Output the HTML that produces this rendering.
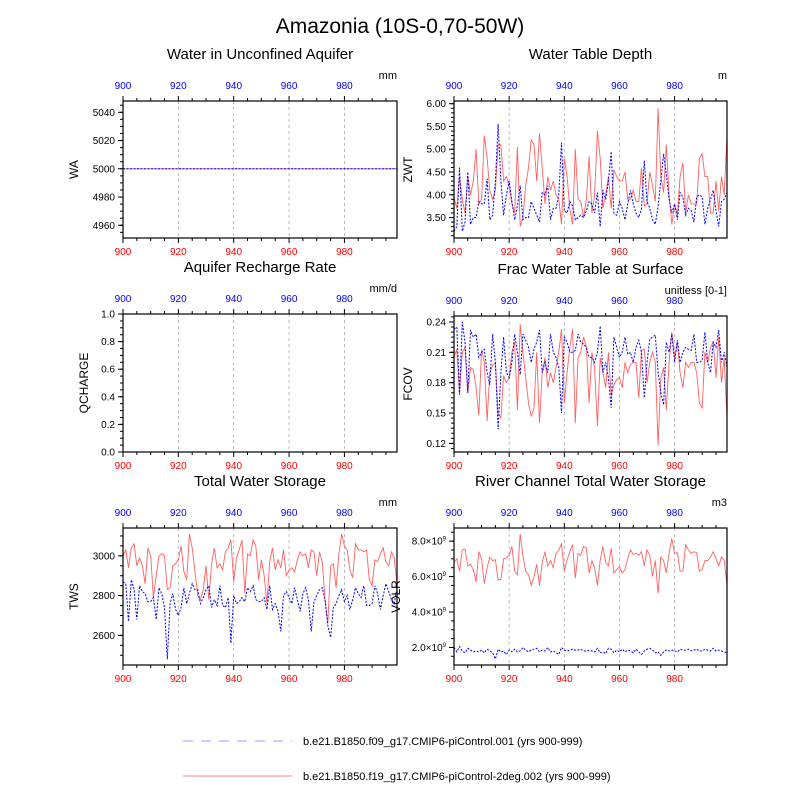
<!DOCTYPE html>
<html><head><meta charset="utf-8"><style>
body{margin:0;background:#fff}
svg{display:block;font-family:"Liberation Sans",sans-serif}
</style></head><body>
<svg id="chart" width="800" height="800" viewBox="0 0 800 800">
<text x="400" y="33" font-size="21" text-anchor="middle">Amazonia (10S-0,70-50W)</text>
<g id="panels"></g>
<g>
<line x1="183" y1="741" x2="292" y2="741" stroke="#9999ff" stroke-width="1" stroke-dasharray="10,8"/>
<text x="303" y="745" font-size="11">b.e21.B1850.f09_g17.CMIP6-piControl.001 (yrs 900-999)</text>
<line x1="183" y1="776" x2="292" y2="776" stroke="#ff8080" stroke-width="1"/>
<text x="303" y="780" font-size="11">b.e21.B1850.f19_g17.CMIP6-piControl-2deg.002 (yrs 900-999)</text>
</g>
</svg>
<script>
const years = Array.from({length:100},(_,i)=>900+i);
const xTicks = [900,920,940,960,980];
const waRed = Array(100).fill(5000);
const waBlue = Array(100).fill(5000);
const qRed = Array(100).fill(0);
const qBlue = Array(100).fill(0);
const zwtRed = [3.95,3.7,4.4,3.9,3.6,4.4,4.0,4.3,5.0,3.8,3.9,5.3,4.8,4.1,3.9,4.1,5.1,5.1,4.3,4.4,4.2,3.8,3.6,5.05,3.3,3.5,4.2,4.6,5.2,5.1,4.3,5.35,4.6,3.8,4.4,4.1,4.3,4.0,3.9,3.35,4.8,4.4,3.7,3.35,5.0,3.9,3.85,3.5,3.9,4.85,3.6,4.0,5.4,4.8,3.7,4.0,4.4,3.7,4.55,4.4,4.3,4.3,4.5,3.9,3.9,4.1,3.85,3.85,4.6,3.75,3.8,4.5,4.2,3.85,5.9,4.4,4.05,5.1,4.0,3.35,3.8,3.55,4.4,4.7,3.6,4.0,3.8,3.8,3.8,4.8,4.9,4.4,4.4,3.6,3.6,4.3,3.65,4.4,4.0,5.3];
const zwtBlue = [3.2,3.3,4.6,3.2,3.4,4.5,3.35,3.5,3.5,3.85,3.8,3.8,4.35,3.45,3.55,4.3,5.55,4.3,3.55,4.0,4.3,3.85,3.45,3.75,4.2,3.45,3.5,3.5,3.85,3.7,3.55,3.4,4.05,4.0,4.2,3.45,3.7,3.7,4.0,5.15,3.65,3.6,3.85,3.75,3.45,3.5,3.55,3.5,3.65,3.85,3.8,3.6,4.05,3.3,4.1,3.9,4.3,4.95,3.6,3.55,3.85,3.7,3.45,3.8,4.1,3.8,3.6,3.5,3.7,4.75,3.85,3.7,3.45,3.35,3.75,4.3,4.9,4.45,3.9,3.6,3.8,3.45,4.05,3.95,3.55,3.7,3.65,3.4,3.95,4.0,3.95,3.35,3.7,3.9,4.1,3.65,3.3,3.85,3.9,4.05];
const fcovRed = [0.205,0.213,0.17,0.21,0.215,0.17,0.195,0.193,0.175,0.148,0.213,0.2,0.142,0.19,0.197,0.2,0.15,0.145,0.187,0.18,0.185,0.21,0.22,0.153,0.238,0.21,0.185,0.16,0.147,0.155,0.21,0.14,0.19,0.205,0.175,0.19,0.18,0.195,0.21,0.233,0.16,0.19,0.215,0.233,0.14,0.205,0.21,0.225,0.215,0.16,0.21,0.195,0.137,0.205,0.19,0.175,0.21,0.167,0.178,0.183,0.185,0.175,0.2,0.19,0.198,0.2,0.2,0.165,0.212,0.213,0.18,0.2,0.21,0.2,0.118,0.185,0.195,0.153,0.2,0.23,0.205,0.22,0.19,0.175,0.2,0.195,0.2,0.2,0.19,0.16,0.155,0.21,0.2,0.215,0.22,0.185,0.225,0.18,0.205,0.145];
const fcovBlue = [0.233,0.235,0.168,0.24,0.22,0.17,0.232,0.225,0.228,0.205,0.21,0.213,0.19,0.178,0.228,0.2,0.134,0.19,0.225,0.19,0.185,0.2,0.228,0.21,0.188,0.228,0.222,0.215,0.2,0.213,0.22,0.232,0.19,0.2,0.19,0.228,0.21,0.205,0.195,0.15,0.225,0.22,0.21,0.21,0.212,0.228,0.22,0.218,0.215,0.205,0.205,0.2,0.21,0.236,0.19,0.2,0.185,0.155,0.225,0.215,0.205,0.21,0.225,0.208,0.21,0.2,0.215,0.222,0.21,0.165,0.2,0.223,0.225,0.227,0.19,0.17,0.158,0.22,0.21,0.228,0.2,0.222,0.2,0.21,0.215,0.213,0.212,0.228,0.2,0.2,0.202,0.23,0.2,0.19,0.22,0.215,0.232,0.2,0.21,0.195];
const twsRed = [3000,3030,2940,3040,3060,2950,2990,2950,2860,3040,3000,2790,2900,3000,3010,3000,2830,2840,2950,2960,2980,3050,2920,2880,3110,3040,2920,2800,2780,2830,2950,2780,2960,3040,2940,2960,2930,3020,3040,3080,2870,2990,3030,3080,2810,3010,3000,3080,3050,2880,2980,2900,2760,2970,3040,2930,2980,2940,3030,2900,2930,2940,2920,2980,3020,3000,3010,2940,3030,3020,2900,3020,2970,2780,2660,2950,2960,2840,3010,3110,3050,3030,2930,2890,3060,3030,3030,3020,3030,2880,2850,2980,2970,3010,3040,2970,2950,3020,2990,2860];
const twsBlue = [2870,2860,2670,2880,2830,2680,2850,2820,2810,2770,2770,2790,2680,2840,2810,2740,2480,2760,2810,2730,2700,2740,2840,2760,2810,2860,2830,2830,2760,2790,2830,2850,2740,2780,2750,2850,2750,2740,2790,2560,2800,2760,2770,2790,2770,2840,2820,2850,2780,2770,2770,2790,2730,2850,2730,2760,2720,2620,2800,2820,2790,2760,2840,2780,2720,2810,2840,2780,2620,2770,2800,2830,2840,2780,2650,2590,2740,2760,2800,2830,2770,2800,2730,2780,2840,2810,2790,2850,2750,2750,2760,2850,2810,2730,2800,2860,2820,2780,2760,2840];
const volrRed = [6.8,7.0,6.3,7.5,7.55,6.6,6.7,6.4,5.7,7.4,7.0,5.6,6.5,7.1,6.9,6.95,5.8,5.85,7.0,7.05,7.2,7.7,6.3,6.1,8.4,7.2,6.3,6.1,5.5,6.0,6.7,5.5,6.8,7.4,6.6,6.9,6.5,7.3,7.5,7.85,6.3,6.95,7.4,7.8,5.9,7.3,7.2,7.7,7.6,6.2,6.9,6.5,5.5,6.9,7.7,6.8,6.6,7.6,6.2,6.4,6.55,6.2,6.4,7.0,7.5,7.25,7.3,7.2,7.4,6.6,7.5,7.2,6.0,6.9,5.05,7.1,6.9,6.2,7.3,8.15,7.3,7.35,6.3,6.3,7.8,7.5,7.3,7.4,7.35,6.3,6.4,6.9,6.9,7.1,7.4,7.0,6.6,7.1,6.9,5.5];
const volrBlue = [2.0,1.75,2.05,1.8,1.7,1.95,1.85,1.75,1.8,1.75,1.85,1.7,1.9,1.8,1.7,1.35,1.9,1.75,1.8,1.6,1.85,1.75,1.9,1.75,1.8,2.0,1.85,1.75,1.85,1.9,1.95,1.75,1.85,1.8,2.0,1.75,1.8,1.7,1.6,2.0,1.85,1.8,1.85,1.9,1.85,1.85,1.9,1.8,1.8,1.85,1.8,1.75,1.95,1.7,1.75,1.65,1.95,1.9,1.7,1.85,1.75,1.9,1.75,1.85,1.8,1.7,1.9,1.75,1.6,1.8,1.9,1.95,1.85,1.7,1.75,1.55,1.75,1.85,1.8,1.85,1.8,1.75,1.9,1.85,1.85,1.9,1.8,1.85,1.9,1.8,1.8,1.9,1.85,1.8,1.95,1.8,1.85,1.8,1.75,1.7];
const waTicks=[4960,4980,5000,5020,5040];
const qTicks=[0,0.2,0.4,0.6,0.8,1.0];
const zwtTicks=[3.5,4.0,4.5,5.0,5.5,6.0];
const fcovTicks=[0.12,0.15,0.18,0.21,0.24];
const twsTicks=[2600,2800,3000];
const volrTicks=[2,4,6,8];

const NS='http://www.w3.org/2000/svg';
const root=document.getElementById('panels');
function mk(tag,attrs,parent,txt){const e=document.createElementNS(NS,tag);for(const k in attrs)e.setAttribute(k,attrs[k]);if(txt!==undefined)e.textContent=txt;(parent||root).appendChild(e);return e;}

function panel(p){
  const g=mk('g',{});
  
  
  const L=p.x0,R=p.x1,T=p.y0,B=p.y1;
  const xs=v=>L+(v-900)/(999-900)*(R-L);
  const ys=v=>B-(v-p.ymin)/(p.ymax-p.ymin)*(B-T);
  const t=mk('text',{x:(L+R)/2,y:T-42,'font-size':15,'text-anchor':'middle'},g,p.title);
  
  
  const u=mk('text',{x:R,y:T-22,'font-size':11,'text-anchor':'end'},g,p.unit);
  
  
  // grid
  xTicks.slice(1).forEach(v=>{mk('line',{x1:xs(v),x2:xs(v),y1:T,y2:B,stroke:'#aaa','stroke-width':0.8,'stroke-dasharray':'3,3'},g);});
  // x ticks
  for(let v=900;v<1000;v+=5){const maj=(v%20===0);const len=maj?5:3;
    mk('line',{x1:xs(v),x2:xs(v),y1:T,y2:T-len,stroke:'#000','stroke-width':1},g);
    mk('line',{x1:xs(v),x2:xs(v),y1:B,y2:B+len,stroke:'#000','stroke-width':1},g);}
  xTicks.forEach(v=>{
    const a=mk('text',{x:xs(v),y:T-12,'font-size':10,fill:'#0000ff','text-anchor':'middle'},g,v);
    
    
    const b=mk('text',{x:xs(v),y:B+17,'font-size':10,fill:'#ff0000','text-anchor':'middle'},g,v);
    
    
  });
  // y ticks
  for(let v=p.ymin0;v<=p.ymax+1e-9;v+=p.minor){const y=ys(v);if(y<T-0.5||y>B+0.5)continue;mk('line',{x1:L,x2:L-3,y1:y,y2:y,stroke:'#000','stroke-width':1},g);}
  p.ticks.forEach(v=>{const y=ys(v);mk('line',{x1:L,x2:L-5,y1:y,y2:y,stroke:'#000','stroke-width':1},g);
    const lab=mk('text',{x:L-8,y:y+3.5,'font-size':10,'text-anchor':'end'},g);
    if(p.sci){lab.textContent=v.toFixed(1)+'\u00d710';mk('tspan',{dy:-4,'font-size':6},lab,'9');}
    else lab.textContent=p.fmt(v);
    
    
  });
  const yt=mk('text',{x:p.ytx,y:(T+B)/2,'font-size':12,'text-anchor':'middle',transform:`rotate(-90 ${p.ytx} ${(T+B)/2})`},g,p.ylab);
  
  
  // series
  const pts=arr=>arr.map((v,i)=>xs(years[i]).toFixed(1)+','+ys(v).toFixed(1)).join(' ');
  const r=mk('polyline',{points:pts(p.red),fill:'none',stroke:'#ff6060','stroke-width':0.9},g);
  
  
  const bl=mk('polyline',{points:pts(p.blue),fill:'none',stroke:'#0000ff','stroke-width':1,'stroke-dasharray':'2,1.5'},g);
  
  
  const f=mk('rect',{x:L,y:T,width:R-L,height:B-T,fill:'none',stroke:'#000','stroke-width':1.2},g);
  
  
}
const LX=[123,397],RX=[454,727];
panel({key:'wa',title:'Water in Unconfined Aquifer',unit:'mm',ylab:'WA',ytx:78,x0:LX[0],x1:LX[1],y0:101,y1:238,ymin:4951,ymax:5048,ymin0:4955,minor:5,ticks:waTicks,fmt:v=>v,red:waRed,blue:waBlue});
panel({key:'zwt',title:'Water Table Depth',unit:'m',ylab:'ZWT',ytx:412,x0:RX[0],x1:RX[1],y0:101,y1:238,ymin:3.05,ymax:6.06,ymin0:3.1,minor:0.1,ticks:zwtTicks,fmt:v=>v.toFixed(2),red:zwtRed,blue:zwtBlue});
panel({key:'qcharge',title:'Aquifer Recharge Rate',unit:'mm/d',ylab:'QCHARGE',ytx:88,x0:LX[0],x1:LX[1],y0:314,y1:452,ymin:0,ymax:1.0,ymin0:0,minor:0.05,ticks:qTicks,fmt:v=>v.toFixed(1),red:qRed,blue:qBlue});
panel({key:'fcov',title:'Frac Water Table at Surface',unit:'unitless [0-1]',ylab:'FCOV',ytx:412,x0:RX[0],x1:RX[1],y0:316,y1:452,ymin:0.1115,ymax:0.2459,ymin0:0.115,minor:0.005,ticks:fcovTicks,fmt:v=>v.toFixed(2),red:fcovRed,blue:fcovBlue});
panel({key:'tws',title:'Total Water Storage',unit:'mm',ylab:'TWS',ytx:78,x0:LX[0],x1:LX[1],y0:528,y1:665,ymin:2451,ymax:3140,ymin0:2500,minor:50,ticks:twsTicks,fmt:v=>v,red:twsRed,blue:twsBlue});
panel({key:'volr',title:'River Channel Total Water Storage',unit:'m3',ylab:'VOLR',ytx:400,x0:RX[0],x1:RX[1],y0:528,y1:665,ymin:1.01,ymax:8.74,ymin0:1.5,minor:0.5,ticks:volrTicks,sci:true,red:volrRed,blue:volrBlue});
</script>
</body></html>
